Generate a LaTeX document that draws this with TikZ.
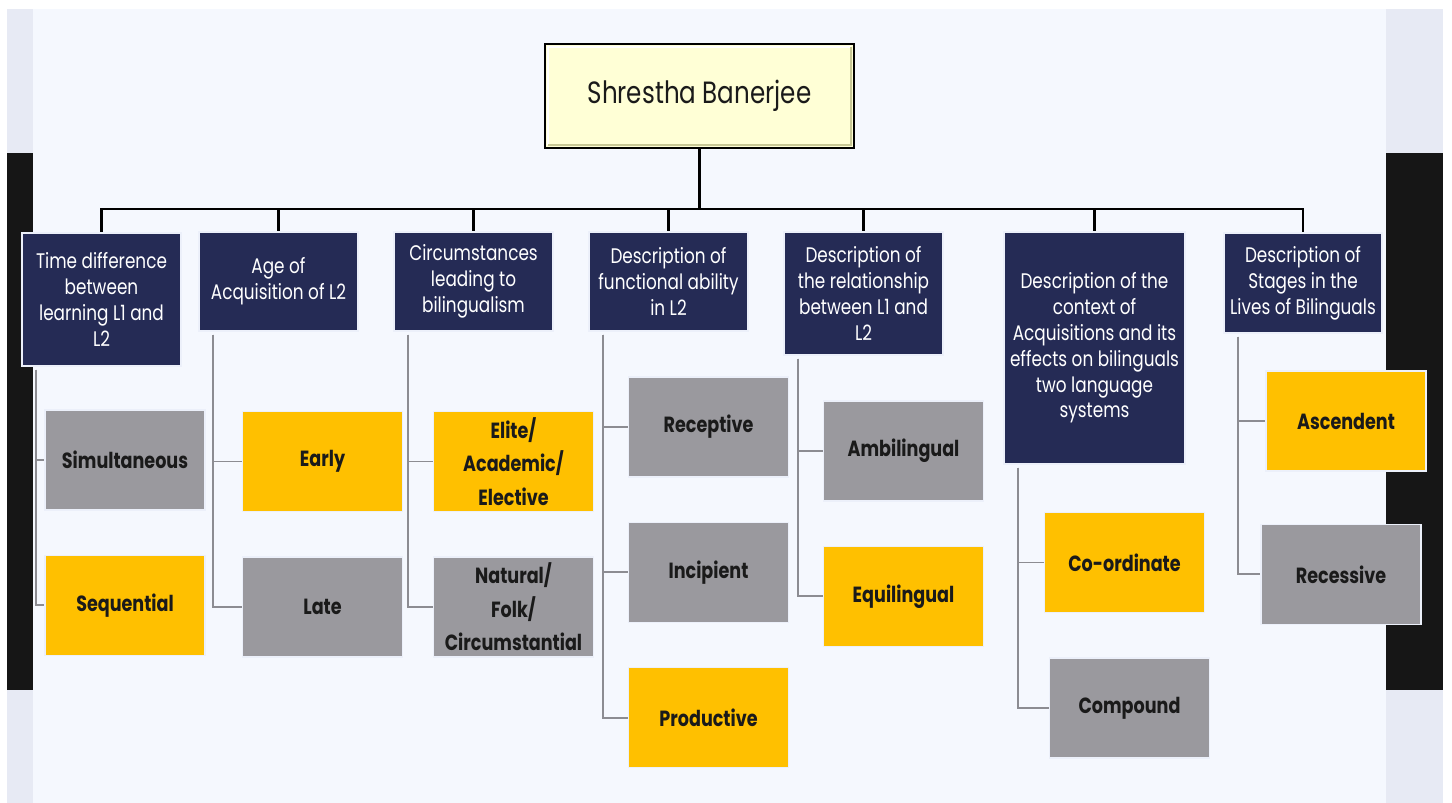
\documentclass[tikz,border=0pt]{standalone}
\usepackage{fontspec}
\setmainfont{Poppins}[FakeStretch=0.8]
\usetikzlibrary{positioning}

\definecolor{navy}{RGB}{37,43,85}
\definecolor{leafgrey}{RGB}{154,153,158}
\definecolor{leafgold}{RGB}{255,192,0}
\definecolor{rootfill}{RGB}{255,255,214}
\definecolor{rootshade}{RGB}{200,200,150}
\definecolor{panel}{RGB}{245,248,254}
\definecolor{rim}{RGB}{231,234,244}
\definecolor{band}{RGB}{22,22,22}
\definecolor{railgrey}{RGB}{140,140,146}
\definecolor{edge}{RGB}{236,240,250}
\definecolor{ink}{RGB}{26,26,26}

\tikzset{
  root/.style={rectangle, draw=black, line width=1.2pt, fill=rootfill, text=ink,
    minimum width=6.18cm, minimum height=2.08cm, font=\fontsize{17.5}{21}\selectfont},
  head/.style={rectangle, draw=edge, line width=0.8pt, fill=navy, text=white, align=center,
    inner sep=1pt, minimum width=3.18cm, minimum height=1.98cm, font=\fontsize{12}{14.7}\selectfont},
  leaf/.style={rectangle, draw=edge, line width=0.8pt, minimum width=3.2cm, minimum height=2cm,
    align=center, text=ink, font=\bfseries\fontsize{12.5}{19}\selectfont},
  greyleaf/.style={leaf, fill=leafgrey},
  goldleaf/.style={leaf, fill=leafgold},
  bus/.style={line width=1.5pt, black},
  rail/.style={line width=1.1pt, railgrey},
}

\begin{document}
\begin{tikzpicture}[x=0.02cm, y=-0.02cm, node distance=0.88cm]
  \useasboundingbox (0,0) rectangle (1452,803);
  \fill[white] (0,0) rectangle (1452,803);
  \fill[panel] (33,9) rectangle (1386,803);
  \fill[rim] (7,9) rectangle (33,803);
  \fill[rim] (1386,9) rectangle (1443,803);
  \fill[band] (7,153) rectangle (33,690);
  \fill[band] (1386,153) rectangle (1443,690);

  \node[root] (root) at (699.5,96) {Shrestha Banerjee};
  \draw[white, line width=1.2pt] ([shift={(4,-4)}]root.south west) |- ([shift={(-4,4)}]root.north east);
  \draw[rootshade, line width=1.2pt] ([shift={(4,-4)}]root.south west) -| ([shift={(-4,4)}]root.north east);

  \node[head, minimum height=2.66cm] (c1) at (101.5,299.5) {Time difference\\between\\learning L1 and\\L2};
  \node[head] (c2) at (278.5,281.5) {Age of\\Acquisition of L2};
  \node[head] (c3) at (473.5,281.5) {Circumstances\\leading to\\bilingualism};
  \node[head] (c4) at (668.5,281.5) {Description of\\functional ability\\in L2};
  \node[head, minimum height=2.46cm] (c5) at (863.5,293.5) {Description of\\the relationship\\between L1 and\\L2};
  \node[head, minimum width=3.62cm, minimum height=4.64cm] (c6) at (1094.5,348) {Description of the\\context of\\Acquisitions and its\\effects on bilinguals\\two language\\systems};
  \node[head, minimum width=3.16cm, minimum height=2cm] (c7) at (1303,283) {Description of\\Stages in the\\Lives of Bilinguals};

  \node[greyleaf] (sim) at (125,460) {Simultaneous};
  \node[goldleaf] (seq) [below=of sim] {Sequential};
  \node[goldleaf] (early) at (322.5,461.5) {Early};
  \node[greyleaf] (late) [below=of early] {Late};
  \node[goldleaf] (elite) at (513.5,461.5) {Elite/\\Academic/\\Elective};
  \node[greyleaf] (natural) [below=of elite] {Natural/\\Folk/\\Circumstantial};
  \node[greyleaf] (recep) at (708.5,427) {Receptive};
  \node[greyleaf] (incip) [below=of recep] {Incipient};
  \node[goldleaf] (prod) [below=of incip] {Productive};
  \node[greyleaf] (ambi) at (903.5,451) {Ambilingual};
  \node[goldleaf] (equi) [below=of ambi] {Equilingual};
  \node[goldleaf] (coord) at (1124.5,562.5) {Co-ordinate};
  \node[greyleaf] (comp) [below=of coord, xshift=0.1cm] {Compound};
  \node[goldleaf] (asc) at (1346,421) {Ascendent};
  \node[greyleaf] (rec) [below=of asc, xshift=-0.1cm, yshift=-0.16cm] {Recessive};

  \draw[bus] (root.south) -- ++(0,60) coordinate (hub);
  \foreach \c in {c1,c2,c3,c4,c5,c6,c7}
    \draw[bus] (hub) -| (\c.north);

  \foreach \p/\k in {c1/sim, c1/seq, c2/early, c2/late, c3/elite, c3/natural,
      c4/recep, c4/incip, c4/prod, c5/ambi, c5/equi, c6/coord, c6/comp, c7/asc, c7/rec}
    \draw[rail] ([xshift=0.3cm, yshift=-0.06cm]\p.south west) |- (\k.west);
\end{tikzpicture}
\end{document}
